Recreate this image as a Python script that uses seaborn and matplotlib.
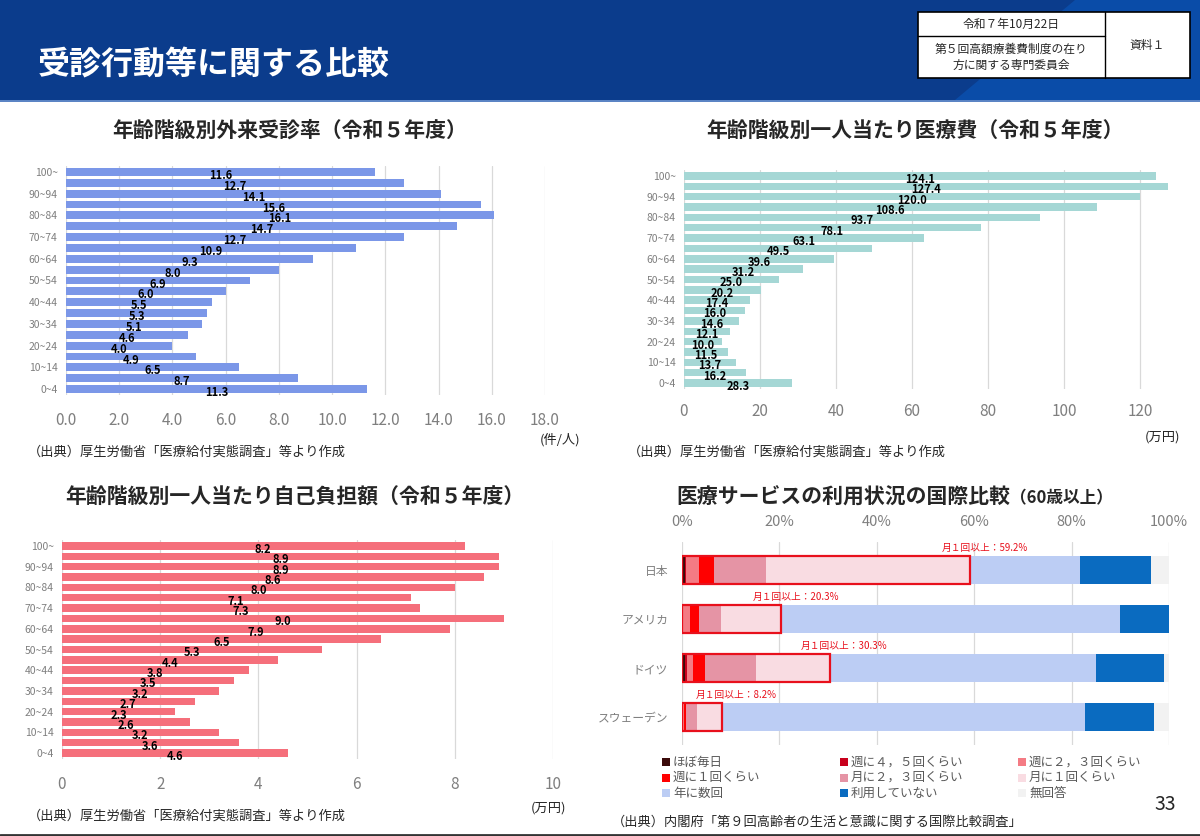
import numpy as np
import pandas as pd
import matplotlib
matplotlib.use("Agg")
import matplotlib.pyplot as plt
import seaborn as sns
from matplotlib.patches import Rectangle, Polygon

# ---------------- data ----------------
ages = ["100~", "95~99", "90~94", "85~89", "80~84", "75~79", "70~74", "65~69",
        "60~64", "55~59", "50~54", "45~49", "40~44", "35~39", "30~34", "25~29",
        "20~24", "15~19", "10~14", "5~9", "0~4"]
visit_rate = [11.6, 12.7, 14.1, 15.6, 16.1, 14.7, 12.7, 10.9, 9.3, 8.0, 6.9,
              6.0, 5.5, 5.3, 5.1, 4.6, 4.0, 4.9, 6.5, 8.7, 11.3]
medical_cost = [124.1, 127.4, 120.0, 108.6, 93.7, 78.1, 63.1, 49.5, 39.6, 31.2,
                25.0, 20.2, 17.4, 16.0, 14.6, 12.1, 10.0, 11.5, 13.7, 16.2, 28.3]
self_pay = [8.2, 8.9, 8.9, 8.6, 8.0, 7.1, 7.3, 9.0, 7.9, 6.5, 5.3,
            4.4, 3.8, 3.5, 3.2, 2.7, 2.3, 2.6, 3.2, 3.6, 4.6]

countries = ["日本", "アメリカ", "ドイツ", "スウェーデン"]
freq_labels = ["ほぼ毎日", "週に４，５回くらい", "週に２，３回くらい",
               "週に１回くらい", "月に２，３回くらい", "月に１回くらい",
               "年に数回", "利用していない", "無回答"]
almost_daily = [0.6, 0.0, 0.7, 0.0]
week_4_5 = [0.3, 0.2, 0.3, 0.2]
week_2_3 = [2.5, 1.5, 1.2, 0.3]
week_1 = [3.1, 1.7, 2.5, 0.3]
month_2_3 = [10.8, 4.7, 10.4, 2.3]
month_1 = [41.9, 12.2, 15.2, 5.1]
few_per_year = [22.6, 69.6, 54.7, 74.6]
not_using = [14.6, 10.1, 14.0, 14.1]
no_answer = [3.6, 0.0, 1.0, 3.1]
monthly_or_more = [59.2, 20.3, 30.3, 8.2]

# ---------------- style ----------------
sns.set_theme(style="white")
plt.rcParams["font.family"] = ["Noto Sans CJK JP", "DejaVu Sans"]

W, H = 1200, 836
fig = plt.figure(figsize=(W / 100, H / 100), dpi=100)
fig.patch.set_facecolor("white")


def fx(px):
    return px / W


def fy(py):
    return 1 - py / H


def rect(x0, y0, x1, y1):
    return [fx(x0), fy(y1), fx(x1) - fx(x0), fy(y0) - fy(y1)]


GREY = "#7f7f7f"
GRID = "#d9d9d9"

# ---------------- header ----------------
fig.patches.append(Rectangle((0, fy(100)), 1, 100 / H, transform=fig.transFigure,
                             facecolor="#0b3c8c", edgecolor="none", zorder=0))
fig.patches.append(Polygon([(fx(1075), fy(0)), (fx(1200), fy(0)), (fx(1200), fy(100)),
                            (fx(955), fy(100))], closed=True, transform=fig.transFigure,
                           facecolor="#0a4ca8", edgecolor="none", zorder=0))
fig.patches.append(Rectangle((0, fy(102)), 1, 2 / H, transform=fig.transFigure,
                             facecolor="#5b84c4", edgecolor="none", zorder=0))
fig.text(fx(38), fy(65), "受診行動等に関する比較", color="white", fontsize=23,
         fontweight="bold", ha="left", va="center")

# info table
fig.patches.append(Rectangle((fx(918), fy(78)), fx(1190) - fx(918), fy(12) - fy(78),
                             transform=fig.transFigure, facecolor="white",
                             edgecolor="black", linewidth=1.2, zorder=1))
fig.add_artist(plt.Line2D([fx(1105), fx(1105)], [fy(12), fy(78)], color="black",
                          linewidth=1.0, transform=fig.transFigure))
fig.add_artist(plt.Line2D([fx(918), fx(1105)], [fy(36), fy(36)], color="black",
                          linewidth=1.0, transform=fig.transFigure))
fig.text(fx(1011), fy(24), "令和７年10月22日", fontsize=8.5, ha="center", va="center")
fig.text(fx(1011), fy(57), "第５回高額療養費制度の在り\n方に関する専門委員会", fontsize=8.5,
         ha="center", va="center", linespacing=1.3)
fig.text(fx(1147), fy(45), "資料１", fontsize=8.5, ha="center", va="center")


# ---------------- age panels ----------------
def age_panel(box, first_py, last_py, values, color, xlim, ticks, tick_fmt, pad):
    ax = fig.add_axes(rect(*box))
    df = pd.DataFrame({"age": ages, "value": values})
    sns.barplot(data=df, y="age", x="value", order=ages, color=color, saturation=1,
                width=0.72, linewidth=0, ax=ax, zorder=2)
    s = (last_py - first_py) / 20
    ax.set_ylim(20 + (box[3] - last_py) / s, -(first_py - box[1]) / s)
    ax.set_xlim(*xlim)
    ax.set_xticks(ticks)
    ax.set_xticklabels([tick_fmt.format(t) for t in ticks], fontsize=11, color=GREY)
    ax.set_yticks(range(len(ages)))
    ax.set_yticklabels([a if i % 2 == 0 else "" for i, a in enumerate(ages)],
                       fontsize=7.5, color=GREY)
    ax.tick_params(axis="x", length=0, pad=pad)
    ax.tick_params(axis="y", length=0, pad=6)
    ax.xaxis.grid(True, color=GRID, linewidth=0.9)
    ax.set_axisbelow(True)
    for sp in ax.spines.values():
        sp.set_visible(False)
    ax.set_xlabel("")
    ax.set_ylabel("")
    for i, v in enumerate(values):
        ax.text(v / 2, i + 0.33, f"{v:.1f}", ha="center", va="center", fontsize=8,
                fontweight="bold", color="black", zorder=3)
    return ax


age_panel((66, 166, 545, 395), 172, 389, visit_rate, "#7b97e8", (0, 18),
          [0, 2, 4, 6, 8, 10, 12, 14, 16, 18], "{:.1f}", 12)
age_panel((684, 170, 1178, 389), 176, 383, medical_cost, "#a5d7d5", (0, 130),
          [0, 20, 40, 60, 80, 100, 120], "{:d}", 10)
age_panel((62, 540, 553, 759), 546, 753, self_pay, "#f56f7b", (0, 10),
          [0, 2, 4, 6, 8, 10], "{:d}", 12)

fig.text(fx(290), fy(130), "年齢階級別外来受診率（令和５年度）", fontsize=15,
         fontweight="bold", ha="center", va="center")
fig.text(fx(915), fy(130), "年齢階級別一人当たり医療費（令和５年度）", fontsize=15,
         fontweight="bold", ha="center", va="center")
fig.text(fx(295), fy(497), "年齢階級別一人当たり自己負担額（令和５年度）", fontsize=15,
         fontweight="bold", ha="center", va="center")

fig.text(fx(560), fy(440), "(件/人)", fontsize=9.5, ha="center", va="center")
fig.text(fx(1162), fy(437), "(万円)", fontsize=9.5, ha="center", va="center")
fig.text(fx(548), fy(808), "(万円)", fontsize=9.5, ha="center", va="center")

src = "（出典）厚生労働省「医療給付実態調査」等より作成"
fig.text(fx(28), fy(452), src, fontsize=9.5, ha="left", va="center")
fig.text(fx(628), fy(452), src, fontsize=9.5, ha="left", va="center")
fig.text(fx(28), fy(816), src, fontsize=9.5, ha="left", va="center")

# ---------------- international comparison ----------------
freq_colors = ["#3b0a0a", "#c8001c", "#f47b84", "#ff0000", "#e594a5", "#f9dce2",
               "#bccdf4", "#0a6bc0", "#f2f2f2"]
series = [almost_daily, week_4_5, week_2_3, week_1, month_2_3, month_1,
          few_per_year, not_using, no_answer]

ax4_box = (682, 542, 1169, 745)
ax4 = fig.add_axes(rect(*ax4_box))
cum = np.cumsum(np.array(series), axis=0)
for k in range(len(series) - 1, -1, -1):
    df = pd.DataFrame({"country": countries, "value": cum[k]})
    sns.barplot(data=df, y="country", x="value", order=countries, color=freq_colors[k],
                saturation=1, width=0.57, ax=ax4, zorder=2, linewidth=0)
df_box = pd.DataFrame({"country": countries, "value": monthly_or_more})
sns.barplot(data=df_box, y="country", x="value", order=countries, color="#e8101c",
            fill=False, width=0.57, linewidth=1.6, ax=ax4, zorder=3)
for i, v in enumerate(monthly_or_more):
    ax4.text(v + 3, i - 0.46, f"月１回以上：{v:.1f}%", color="#e8101c", fontsize=7,
             ha="center", va="center", zorder=4)

s4 = 49
ax4.set_ylim(3 + (745 - 717) / s4, -(570 - 542) / s4)
ax4.set_xlim(0, 100)
ax4.set_xticks([0, 20, 40, 60, 80, 100])
ax4.set_xticklabels([f"{t}%" for t in [0, 20, 40, 60, 80, 100]], fontsize=10.5, color=GREY)
ax4.xaxis.tick_top()
ax4.tick_params(axis="x", length=0, pad=9)
ax4.tick_params(axis="y", length=0, pad=10, labelsize=8.5, labelcolor=GREY)
ax4.xaxis.grid(True, color=GRID, linewidth=0.9)
ax4.set_axisbelow(True)
for sp in ax4.spines.values():
    sp.set_visible(False)
ax4.set_xlabel("")
ax4.set_ylabel("")

fig.text(fx(1010), fy(497), "医療サービスの利用状況の国際比較", fontsize=15,
         fontweight="bold", ha="right", va="center")
fig.text(fx(1010), fy(498), "（60歳以上）", fontsize=12, fontweight="bold",
         ha="left", va="center")

# legend (row-major, 3 columns)
for idx, (lab, col) in enumerate(zip(freq_labels, freq_colors)):
    r, c = divmod(idx, 3)
    x0 = 662 + 178 * c
    y0 = 762 + 15.5 * r
    fig.patches.append(Rectangle((fx(x0), fy(y0 + 4)), 8 / W, 8 / H,
                                 transform=fig.transFigure, facecolor=col,
                                 edgecolor="none"))
    fig.text(fx(x0 + 11), fy(y0), lab, fontsize=9, color="#595959", ha="left",
             va="center")

fig.text(fx(612), fy(822), "（出典）内閣府「第９回高齢者の生活と意識に関する国際比較調査」",
         fontsize=9.5, ha="left", va="center")
fig.text(fx(1165), fy(805), "33", fontsize=14, ha="center", va="center")
fig.add_artist(plt.Line2D([0, 1], [fy(835), fy(835)], color="#333333", linewidth=2,
                          transform=fig.transFigure))

fig.savefig("out.png", dpi=100)
